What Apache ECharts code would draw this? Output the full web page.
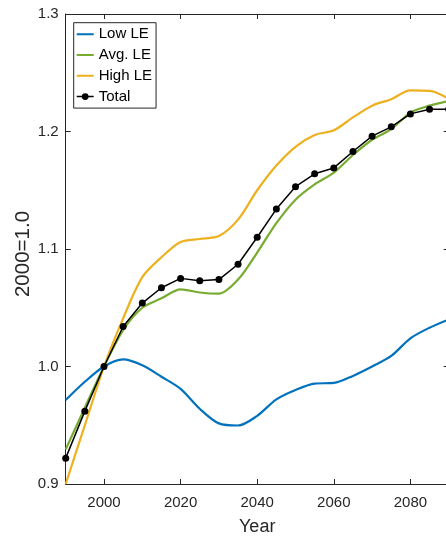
<!DOCTYPE html>
<html>
<head>
<meta charset="utf-8">
<script src="https://cdn.jsdelivr.net/npm/echarts@6/dist/echarts.min.js"></script>
<style>
  html, body { margin: 0; padding: 0; background: #fff; }
  #main { width: 446px; height: 539px; }
</style>
</head>
<body>
<div id="main"></div>
<script>
// years shared by all series
var years = [1990, 1995, 2000, 2005, 2010, 2015, 2020, 2025, 2030, 2035, 2040,
             2045, 2050, 2055, 2060, 2065, 2070, 2075, 2080, 2085, 2090];

var lowLE = [0.9715, 0.987, 1.000, 1.006, 1.001, 0.9913, 0.981, 0.964, 0.9516, 0.9498, 0.958,
             0.972, 0.980, 0.9855, 0.986, 0.992, 1.000, 1.009, 1.024, 1.033, 1.040];
var avgLE = [0.9295, 0.965, 1.000, 1.031, 1.050, 1.058, 1.0657, 1.063, 1.062, 1.074, 1.097,
             1.122, 1.142, 1.155, 1.165, 1.180, 1.193, 1.202, 1.216, 1.222, 1.226];
var highLE = [0.900, 0.950, 1.000, 1.041, 1.076, 1.093, 1.106, 1.1085, 1.111, 1.125, 1.150,
              1.171, 1.187, 1.197, 1.201, 1.212, 1.222, 1.2275, 1.235, 1.2345, 1.228];
var total = [0.922, 0.962, 1.000, 1.034, 1.054, 1.067, 1.075, 1.073, 1.074, 1.087, 1.110,
             1.134, 1.153, 1.164, 1.169, 1.183, 1.196, 1.204, 1.215, 1.219, 1.219];

var xTicks = [2000, 2020, 2040, 2060, 2080];
var seriesNames = ['Low LE', 'Avg. LE', 'High LE', 'Total'];
var colors = ['#0072BD', '#77AC30', '#EDB120', '#000000'];

var pairs = function (vals) {
    return years.map(function (y, i) { return [y, vals[i]]; });
};

// legend icons: plain line for the curves, line + dot for Total
var lineIcon = 'path://M0,0h0.01v0.01h-0.01zM0,6h17v2h-17zM16.99,13.99h0.01v0.01h-0.01z';
var dotIcon = 'path://M0,0h0.01v0.01h-0.01zM0,6.25h17v1.5h-17zM5.1,7A3.4,3.4 0 1 1 11.9,7A3.4,3.4 0 1 1 5.1,7zM16.99,13.99h0.01v0.01h-0.01z';

var axisColor = '#262626';
var font = 'Liberation Sans, Arial, Helvetica, sans-serif';

var chartDom = document.getElementById('main');
var myChart = echarts.init(chartDom, null, { renderer: 'canvas' });
var option;

option = {
    animation: false,
    backgroundColor: '#fff',
    textStyle: { fontFamily: font },
    grid: { left: 65.7, top: 14, right: -2.7, bottom: 55, outerBoundsMode: 'none' },
    legend: {
        orient: 'vertical',
        left: 73.7,
        top: 22.7,
        data: seriesNames.map(function (n, i) {
            return { name: n, icon: i === 3 ? dotIcon : lineIcon };
        }),
        backgroundColor: '#fff',
        borderColor: axisColor,
        borderWidth: 1,
        padding: [4, 4, 4, 3],
        itemWidth: 17,
        itemHeight: 14,
        itemGap: 5.8,
        itemStyle: { borderWidth: 0 },
        textStyle: { fontSize: 15, color: '#000', fontFamily: font }
    },
    xAxis: [
        {
            type: 'value',
            min: 1990,
            max: 2090,
            name: 'Year',
            nameLocation: 'middle',
            nameGap: 34,
            nameMoveOverlap: false,
            nameTextStyle: { fontSize: 18, color: axisColor, fontFamily: font },
            axisLine: { lineStyle: { color: axisColor, width: 1 } },
            axisTick: { inside: true, length: 5, customValues: xTicks, lineStyle: { color: axisColor } },
            axisLabel: {
                customValues: xTicks, fontSize: 15, color: axisColor, margin: 11, fontFamily: font,
                formatter: function (v) { return String(v); }
            },
            splitLine: { show: false }
        },
        {
            type: 'value',
            position: 'top',
            min: 1990,
            max: 2090,
            axisLine: { lineStyle: { color: axisColor, width: 1 } },
            axisTick: { inside: true, length: 5, customValues: xTicks, lineStyle: { color: axisColor } },
            axisLabel: { show: false },
            splitLine: { show: false }
        }
    ],
    yAxis: [
        {
            type: 'value',
            min: 0.9,
            max: 1.3,
            interval: 0.1,
            name: '2000=1.0',
            nameLocation: 'middle',
            nameGap: 31.5,
            nameMoveOverlap: false,
            nameTextStyle: { fontSize: 20.5, color: axisColor, fontFamily: font, padding: [0, 10, 0, 0] },
            axisLine: { show: true, lineStyle: { color: axisColor, width: 1 } },
            axisTick: { show: true, inside: true, length: 5, lineStyle: { color: axisColor } },
            axisLabel: {
                fontSize: 15, color: axisColor, margin: 7, fontFamily: font,
                formatter: function (v) { return v.toFixed(1); }
            },
            splitLine: { show: false }
        },
        {
            type: 'value',
            position: 'right',
            min: 0.9,
            max: 1.3,
            interval: 0.1,
            axisLine: { show: true, lineStyle: { color: axisColor, width: 1 } },
            axisTick: { show: true, inside: true, length: 5, lineStyle: { color: axisColor } },
            axisLabel: { show: false },
            splitLine: { show: false }
        }
    ],
    series: [
        {
            name: seriesNames[0], type: 'line', data: pairs(lowLE), smooth: 0.3,
            symbol: 'none', color: colors[0], lineStyle: { width: 2.2 }
        },
        {
            name: seriesNames[1], type: 'line', data: pairs(avgLE), smooth: 0.3,
            symbol: 'none', color: colors[1], lineStyle: { width: 2.2 }
        },
        {
            name: seriesNames[2], type: 'line', data: pairs(highLE), smooth: 0.3,
            symbol: 'none', color: colors[2], lineStyle: { width: 2.2 }
        },
        {
            name: seriesNames[3], type: 'line', data: pairs(total),
            symbol: 'circle', symbolSize: 7, color: colors[3], lineStyle: { width: 1.5 }
        }
    ]
};

option && myChart.setOption(option);
</script>
</body>
</html>
